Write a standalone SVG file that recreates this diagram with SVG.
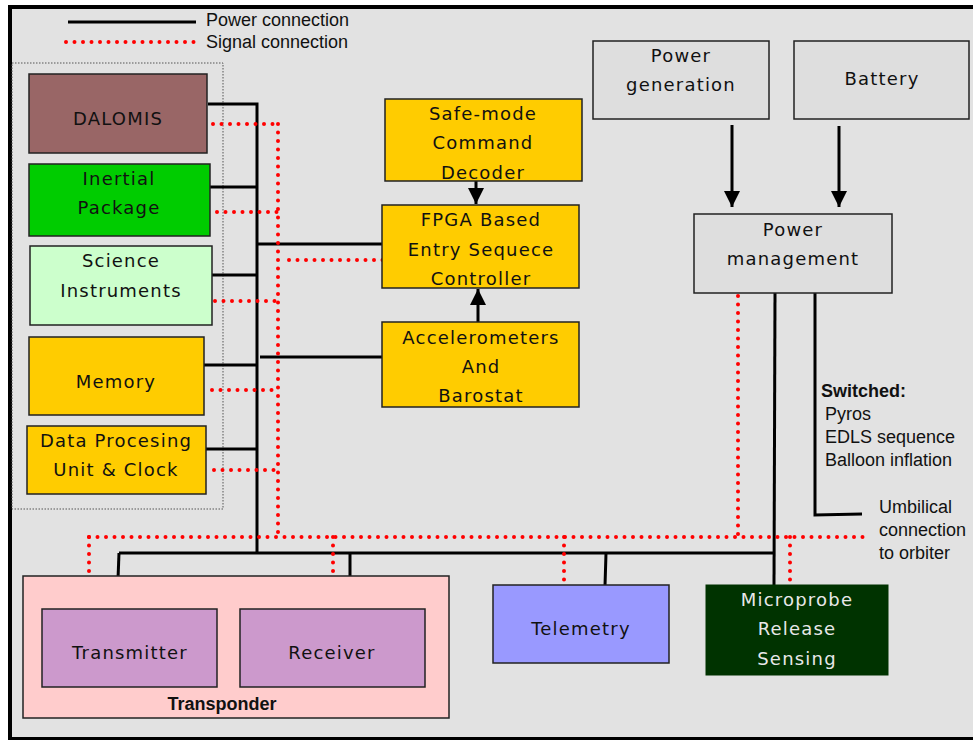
<svg xmlns="http://www.w3.org/2000/svg" width="973" height="740" viewBox="0 0 973 740">
<defs>
<style>
.box{stroke:#222;stroke-width:1.5}
.t{font-family:"DejaVu Sans",Verdana,sans-serif;font-size:18px;letter-spacing:1.2px;fill:#111;text-anchor:middle}
.a{font-family:"Liberation Sans",Arial,sans-serif;font-size:18px;fill:#111}
.pw{stroke:#000;stroke-width:3;fill:none}
.sg{stroke:#f00;stroke-width:4;fill:none;stroke-dasharray:0 8.5;stroke-linecap:round}
</style>
<marker id="ah" viewBox="0 0 16 16" refX="16" refY="8" markerWidth="16" markerHeight="16" markerUnits="userSpaceOnUse" orient="auto"><path d="M0,0 L16,8 L0,16 Z" fill="#000"/></marker>
</defs>
<rect x="10" y="7" width="990" height="732" fill="#e2e2e2" stroke="#000" stroke-width="4"/>
<g id="legend">
<line x1="68" y1="22" x2="196" y2="22" class="pw"/>
<text x="206" y="26" class="a">Power connection</text>
<line x1="66" y1="42" x2="196" y2="42" class="sg"/>
<text x="206" y="48" class="a">Signal connection</text>
</g>
<rect id="group" x="12" y="63" width="211" height="446" fill="none" stroke="#555" stroke-width="1" stroke-dasharray="1.5 1.5"/>
<g id="connectors">
<polyline points="208,104 257,104 257,553" class="pw"/>
<line x1="210" y1="187" x2="257" y2="187" class="pw"/>
<line x1="212" y1="275" x2="257" y2="275" class="pw"/>
<line x1="204" y1="365" x2="257" y2="365" class="pw"/>
<line x1="204" y1="449" x2="257" y2="449" class="pw"/>
<line x1="257" y1="244" x2="383" y2="244" class="pw"/>
<line x1="260" y1="357" x2="383" y2="357" class="pw"/>
<line x1="119" y1="553" x2="775" y2="553" class="pw"/>
<line x1="119" y1="553" x2="117" y2="605" class="pw"/>
<line x1="350" y1="553" x2="350" y2="607" class="pw"/>
<line x1="606" y1="553" x2="605" y2="586" class="pw"/>
<line x1="775" y1="293" x2="774" y2="585" class="pw"/>
<polyline points="815,293 815,515 862,514" class="pw"/>
<line x1="476" y1="181" x2="476" y2="204" class="pw" marker-end="url(#ah)"/>
<line x1="478" y1="322" x2="478" y2="289" class="pw" marker-end="url(#ah)"/>
<line x1="732" y1="125" x2="732" y2="207" class="pw" marker-end="url(#ah)"/>
<line x1="839" y1="126" x2="839" y2="207" class="pw" marker-end="url(#ah)"/>
<line x1="278" y1="124" x2="278" y2="537" class="sg"/>
<line x1="213" y1="124" x2="278" y2="124" class="sg"/>
<line x1="217" y1="212" x2="278" y2="212" class="sg"/>
<line x1="215" y1="301" x2="278" y2="301" class="sg"/>
<line x1="212" y1="390" x2="278" y2="390" class="sg"/>
<line x1="214" y1="470" x2="278" y2="470" class="sg"/>
<line x1="289" y1="260" x2="383" y2="260" class="sg"/>
<line x1="89" y1="537" x2="868" y2="537" class="sg"/>
<line x1="89" y1="537" x2="89" y2="611" class="sg"/>
<line x1="333" y1="537" x2="333" y2="611" class="sg"/>
<line x1="564" y1="537" x2="564" y2="585" class="sg"/>
<line x1="790" y1="537" x2="790" y2="585" class="sg"/>
<line x1="738" y1="296" x2="738" y2="537" class="sg"/>
</g>
<g id="dalomis"><rect x="29" y="74" width="178" height="79" fill="#996666" class="box"/><text x="118" y="125" class="t">DALOMIS</text></g>
<g id="inertial"><rect x="29" y="164" width="181" height="72" fill="#00cc00" class="box"/><text x="119" y="185" class="t">Inertial</text><text x="119" y="214" class="t">Package</text></g>
<g id="science"><rect x="30" y="246" width="182" height="79" fill="#ccffcc" class="box"/><text x="121" y="267" class="t">Science</text><text x="121" y="297" class="t">Instruments</text></g>
<g id="memory"><rect x="29" y="337" width="175" height="78" fill="#ffcc00" class="box"/><text x="116" y="388" class="t">Memory</text></g>
<g id="dpu"><rect x="27" y="426" width="179" height="68" fill="#ffcc00" class="box"/><text x="116" y="447" class="t">Data Procesing</text><text x="116" y="476" class="t">Unit &amp; Clock</text></g>
<g id="safemode"><rect x="385" y="99" width="197" height="82" fill="#ffcc00" class="box"/><text x="483" y="120" class="t">Safe-mode</text><text x="483" y="149" class="t">Command</text><text x="483" y="179" class="t">Decoder</text></g>
<g id="fpga"><rect x="382" y="205" width="197" height="83" fill="#ffcc00" class="box"/><text x="481" y="226" class="t">FPGA Based</text><text x="481" y="256" class="t">Entry Sequece</text><text x="481" y="285" class="t">Controller</text></g>
<g id="accel"><rect x="382" y="322" width="197" height="85" fill="#ffcc00" class="box"/><text x="481" y="344" class="t">Accelerometers</text><text x="481" y="373" class="t">And</text><text x="481" y="402" class="t">Barostat</text></g>
<g id="powergen"><rect x="593" y="41" width="176" height="78" fill="#dedede" class="box"/><text x="681" y="62" class="t">Power</text><text x="681" y="91" class="t">generation</text></g>
<g id="battery"><rect x="794" y="41" width="175" height="78" fill="#dedede" class="box"/><text x="882" y="85" class="t">Battery</text></g>
<g id="powermgmt"><rect x="694" y="214" width="198" height="79" fill="#dedede" class="box"/><text x="793" y="236" class="t">Power</text><text x="793" y="265" class="t">management</text></g>
<g id="switched">
<text x="821" y="397" class="a" font-weight="bold">Switched:</text>
<text x="825" y="420" class="a">Pyros</text>
<text x="825" y="443" class="a">EDLS sequence</text>
<text x="825" y="466" class="a">Balloon inflation</text>
</g>
<g id="umbilical">
<text x="879" y="513" class="a">Umbilical</text>
<text x="879" y="536" class="a">connection</text>
<text x="879" y="559" class="a">to orbiter</text>
</g>
<g id="transponder"><rect x="23" y="576" width="426" height="142" fill="#ffcccc" class="box"/><text x="222" y="710" class="a" font-weight="bold" text-anchor="middle">Transponder</text></g>
<g id="transmitter"><rect x="42" y="609" width="175" height="78" fill="#cc99cc" class="box"/><text x="130" y="659" class="t">Transmitter</text></g>
<g id="receiver"><rect x="240" y="609" width="185" height="78" fill="#cc99cc" class="box"/><text x="332" y="659" class="t">Receiver</text></g>
<g id="telemetry"><rect x="493" y="585" width="176" height="78" fill="#9999ff" class="box"/><text x="581" y="635" class="t">Telemetry</text></g>
<g id="microprobe"><rect x="706" y="585" width="182" height="90" fill="#003300" stroke="#003300" stroke-width="1"/><text x="797" y="606" class="t" style="fill:#e8e8e8">Microprobe</text><text x="797" y="635" class="t" style="fill:#e8e8e8">Release</text><text x="797" y="665" class="t" style="fill:#e8e8e8">Sensing</text></g>
</svg>
